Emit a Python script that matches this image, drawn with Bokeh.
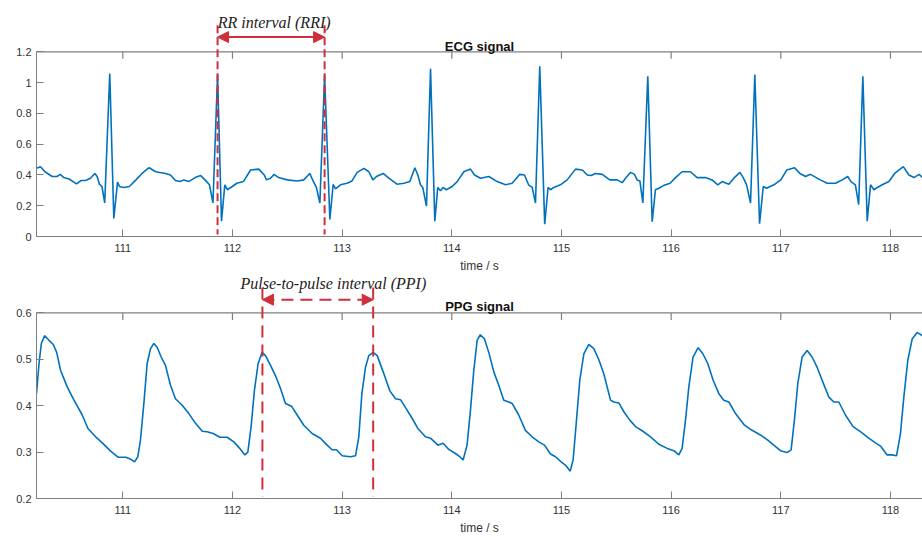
from bokeh.plotting import figure
from bokeh.models import FixedTicker, Range1d, Arrow, NormalHead, Label
from bokeh.layouts import column
from bokeh.embed import file_html
from bokeh.resources import INLINE

# ---------------- data ----------------
ecg_t = [110.213, 110.25, 110.29, 110.356, 110.40, 110.43, 110.462, 110.51, 110.578, 110.62,
         110.66, 110.705, 110.745, 110.766, 110.787, 110.81, 110.835, 110.881, 110.918, 110.952,
         110.97, 111.006, 111.06, 111.12, 111.175, 111.24, 111.30, 111.39, 111.435, 111.48,
         111.52, 111.557, 111.60, 111.66, 111.71, 111.75, 111.79, 111.822, 111.864, 111.90,
         111.93, 111.953, 111.998, 112.04, 112.10, 112.165, 112.24, 112.29, 112.31, 112.347,
         112.38, 112.42, 112.50, 112.59, 112.65, 112.705, 112.735, 112.765, 112.797, 112.84,
         112.888, 112.918, 112.94, 112.985, 113.045, 113.09, 113.137, 113.198, 113.244, 113.28,
         113.313, 113.374, 113.426, 113.50, 113.563, 113.617, 113.663, 113.69, 113.714, 113.735,
         113.769, 113.806, 113.845, 113.872, 113.897, 113.92, 113.95, 114.003, 114.049, 114.11,
         114.17, 114.207, 114.262, 114.338, 114.414, 114.49, 114.55, 114.62, 114.663, 114.70,
         114.733, 114.763, 114.802, 114.847, 114.878, 114.90, 114.93, 114.99, 115.052, 115.128,
         115.19, 115.235, 115.27, 115.31, 115.372, 115.44, 115.508, 115.554, 115.584, 115.63,
         115.666, 115.69, 115.715, 115.742, 115.787, 115.827, 115.857, 115.888, 115.93, 115.99,
         116.04, 116.10, 116.176, 116.237, 116.313, 116.373, 116.425, 116.465, 116.526, 116.572,
         116.627, 116.657, 116.688, 116.724, 116.763, 116.806, 116.84, 116.87, 116.937, 117.0,
         117.054, 117.125, 117.174, 117.226, 117.27, 117.36, 117.423, 117.5, 117.56, 117.61,
         117.64, 117.68, 117.71, 117.748, 117.788, 117.818, 117.85, 117.88, 117.925, 117.986,
         118.038, 118.117, 118.168, 118.214, 118.26, 118.293]
ecg_v = [0.443, 0.454, 0.421, 0.39, 0.39, 0.404, 0.383, 0.374, 0.342, 0.364,
         0.364, 0.379, 0.41, 0.39, 0.34, 0.325, 0.218, 1.059, 0.117, 0.353,
         0.325, 0.319, 0.325, 0.368, 0.41, 0.447, 0.421, 0.41, 0.40, 0.364,
         0.357, 0.368, 0.357, 0.383, 0.396, 0.368, 0.336, 0.218, 1.053, 0.10,
         0.336, 0.304, 0.325, 0.346, 0.357, 0.432, 0.438, 0.40, 0.368, 0.379,
         0.404, 0.383, 0.368, 0.361, 0.368, 0.41, 0.361, 0.319, 0.218, 1.046,
         0.111, 0.338, 0.31, 0.336, 0.346, 0.361, 0.417, 0.443, 0.421, 0.368,
         0.39, 0.41, 0.379, 0.34, 0.346, 0.357, 0.447, 0.40, 0.336, 0.319,
         0.197, 1.091, 0.10, 0.319, 0.297, 0.319, 0.304, 0.325, 0.357, 0.421,
         0.438, 0.40, 0.379, 0.39, 0.357, 0.336, 0.346, 0.404, 0.40, 0.336,
         0.319, 0.218, 1.106, 0.08, 0.319, 0.304, 0.319, 0.336, 0.368, 0.438,
         0.432, 0.40, 0.396, 0.41, 0.404, 0.368, 0.368, 0.35, 0.379, 0.417,
         0.404, 0.368, 0.361, 0.218, 1.042, 0.096, 0.304, 0.314, 0.331, 0.346,
         0.383, 0.421, 0.421, 0.383, 0.383, 0.368, 0.336, 0.357, 0.34, 0.379,
         0.417, 0.383, 0.336, 0.218, 1.053, 0.083, 0.325, 0.314, 0.336, 0.368,
         0.432, 0.447, 0.41, 0.39, 0.404, 0.368, 0.346, 0.346, 0.368, 0.39,
         0.357, 0.336, 0.208, 1.042, 0.10, 0.336, 0.304, 0.319, 0.336, 0.357,
         0.41, 0.454, 0.40, 0.383, 0.404, 0.383]

ppg_t = [110.213, 110.236, 110.257, 110.288, 110.327, 110.366, 110.397, 110.433, 110.494, 110.555,
         110.63, 110.682, 110.752, 110.813, 110.889, 110.956, 111.026, 111.07, 111.107, 111.137,
         111.161, 111.192, 111.222, 111.253, 111.283, 111.313, 111.35, 111.389, 111.435, 111.48,
         111.541, 111.602, 111.663, 111.724, 111.769, 111.824, 111.885, 111.952, 112.012, 112.067,
         112.113, 112.14, 112.17, 112.20, 112.234, 112.27, 112.301, 112.347, 112.392, 112.438,
         112.483, 112.538, 112.59, 112.65, 112.726, 112.802, 112.863, 112.908, 112.948, 113.0,
         113.076, 113.122, 113.152, 113.18, 113.213, 113.243, 113.283, 113.32, 113.374, 113.435,
         113.487, 113.532, 113.578, 113.638, 113.69, 113.76, 113.806, 113.873, 113.92, 113.972,
         114.033, 114.078, 114.103, 114.139, 114.17, 114.2, 114.231, 114.26, 114.298, 114.337,
         114.383, 114.428, 114.474, 114.52, 114.55, 114.61, 114.671, 114.732, 114.793, 114.845,
         114.9, 114.945, 114.997, 115.036, 115.08, 115.106, 115.137, 115.167, 115.204, 115.249,
         115.295, 115.341, 115.386, 115.447, 115.477, 115.523, 115.569, 115.623, 115.675, 115.736,
         115.812, 115.888, 115.964, 116.025, 116.07, 116.1, 116.131, 116.161, 116.2, 116.246,
         116.289, 116.334, 116.383, 116.435, 116.48, 116.526, 116.587, 116.669, 116.738, 116.814,
         116.881, 116.936, 116.997, 117.057, 117.094, 117.124, 117.155, 117.194, 117.24, 117.285,
         117.331, 117.377, 117.437, 117.483, 117.529, 117.589, 117.659, 117.726, 117.802, 117.863,
         117.909, 117.97, 118.015, 118.055, 118.091, 118.122, 118.158, 118.198, 118.243, 118.289]
ppg_v = [0.426, 0.491, 0.534, 0.551, 0.541, 0.532, 0.515, 0.476, 0.440, 0.412,
         0.380, 0.351, 0.333, 0.320, 0.302, 0.289, 0.289, 0.285, 0.279, 0.290,
         0.326, 0.405, 0.491, 0.523, 0.534, 0.526, 0.505, 0.487, 0.444, 0.415,
         0.401, 0.383, 0.362, 0.345, 0.344, 0.340, 0.332, 0.332, 0.322, 0.308,
         0.294, 0.300, 0.355, 0.433, 0.491, 0.515, 0.508, 0.487, 0.465, 0.437,
         0.405, 0.399, 0.380, 0.358, 0.340, 0.330, 0.315, 0.305, 0.305, 0.292,
         0.290, 0.292, 0.333, 0.426, 0.483, 0.508, 0.515, 0.508, 0.473, 0.432,
         0.415, 0.413, 0.396, 0.373, 0.351, 0.333, 0.330, 0.315, 0.319, 0.306,
         0.297, 0.289, 0.283, 0.315, 0.39, 0.475, 0.541, 0.553, 0.544, 0.515,
         0.473, 0.444, 0.412, 0.408, 0.405, 0.380, 0.347, 0.333, 0.322, 0.315,
         0.296, 0.290, 0.279, 0.272, 0.259, 0.283, 0.369, 0.455, 0.512, 0.532,
         0.523, 0.499, 0.469, 0.412, 0.408, 0.406, 0.387, 0.369, 0.355, 0.346,
         0.333, 0.317, 0.308, 0.303, 0.294, 0.308, 0.369, 0.440, 0.505, 0.525,
         0.512, 0.491, 0.455, 0.426, 0.412, 0.408, 0.383, 0.358, 0.347, 0.337,
         0.326, 0.315, 0.303, 0.299, 0.305, 0.369, 0.448, 0.505, 0.519, 0.505,
         0.483, 0.455, 0.419, 0.408, 0.408, 0.380, 0.355, 0.344, 0.330, 0.320,
         0.313, 0.294, 0.294, 0.292, 0.340, 0.419, 0.498, 0.544, 0.558, 0.551]

x_ticks = [111, 112, 113, 114, 115, 116, 117, 118]
ecg_ticks = [0, 0.2, 0.4, 0.6, 0.8, 1, 1.2]
ppg_ticks = [0.2, 0.3, 0.4, 0.5, 0.6]
rri_bounds = [111.864, 112.840]   # R peaks marked in ECG
ppi_bounds = [112.273, 113.283]   # pulse peaks marked in PPG

# ---------------- styling ----------------
BLUE = "#0072bd"
RED = "#cf2e3a"
GRAY = "#7f7f7f"
TXT = "#333333"
SANS = "Liberation Sans"
SERIF = "Liberation Serif"
X0, X1 = 110.213, 118.292
TICK_PX = 7


def style_axis(ax):
    ax.axis_line_color = GRAY
    ax.major_tick_line_color = GRAY
    ax.minor_tick_line_color = None
    ax.major_tick_in = TICK_PX
    ax.major_tick_out = 0
    ax.major_label_text_font = SANS
    ax.major_label_text_color = TXT
    ax.major_label_text_font_size = "11px"
    ax.axis_label_text_font = SANS
    ax.axis_label_text_color = TXT
    ax.axis_label_text_font_style = "normal"
    ax.axis_label_text_font_size = "12px"


def make_fig(h, bottom, ylo, yhi, yview_top, yticks, title, title_y):
    # the frame reaches the top of the figure so that the annotations above the
    # axes box can be drawn; the axes box itself spans [ylo, yhi]
    p = figure(width=922, height=h, x_range=Range1d(X0, X1), y_range=Range1d(ylo, yview_top),
               output_backend="svg", toolbar_location=None,
               min_border_left=36, min_border_right=0, min_border_top=0, min_border_bottom=bottom)
    p.grid.visible = False
    p.outline_line_color = None
    xb = p.below[0]
    yl = p.left[0]
    style_axis(xb)
    style_axis(yl)
    xb.ticker = FixedTicker(ticks=x_ticks)
    xb.axis_label = "time / s"
    xb.major_label_standoff = 7
    xb.axis_label_standoff = 4
    yl.ticker = FixedTicker(ticks=yticks)
    yl.bounds = (ylo, yhi)
    yl.major_label_standoff = 5
    # top edge of the axes box with inward ticks
    frame_px = h - bottom
    tick_len = (yview_top - ylo) / frame_px * TICK_PX
    p.line(x=[X0, X1], y=[yhi, yhi], line_color=GRAY, line_width=1.2)
    p.segment(x0=x_ticks, x1=x_ticks, y0=[yhi] * len(x_ticks), y1=[yhi - tick_len] * len(x_ticks),
              line_color=GRAY, line_width=1.2)
    p.add_layout(Label(x=(X0 + X1) / 2, y=title_y, text=title, text_font=SANS,
                       text_font_style="bold", text_font_size="13px", text_color="#111111",
                       text_align="center", text_baseline="alphabetic"))
    return p


# ---------------- ECG ----------------
p1 = make_fig(275, 36, 0, 1.2, 1.534, ecg_ticks, "ECG signal", 1.232)
p1.left[0].major_label_overrides = {0: "0", 1: "1"}
p1.line(ecg_t, ecg_v, line_color=BLUE, line_width=1.6)
p1.segment(x0=rri_bounds, x1=rri_bounds, y0=[1.373, 1.373], y1=[0.013, 0.013],
           line_color=RED, line_width=2, line_dash="8 4")
p1.add_layout(Arrow(start=NormalHead(size=11, fill_color=RED, line_color=RED),
                    end=NormalHead(size=11, fill_color=RED, line_color=RED),
                    x_start=rri_bounds[0], x_end=rri_bounds[1], y_start=1.296, y_end=1.296,
                    line_color=RED, line_width=2))
p1.add_layout(Label(x=112.38, y=1.393, text="RR interval (RRI)", text_font=SERIF,
                    text_font_style="italic", text_font_size="16px", text_color="#222222",
                    text_align="center", text_baseline="alphabetic"))

# ---------------- PPG ----------------
p2 = make_fig(262, 38, 0.2, 0.6, 0.6807, ppg_ticks, "PPG signal", 0.6135)
p2.line(ppg_t, ppg_v, line_color=BLUE, line_width=1.6)
p2.segment(x0=ppi_bounds, x1=ppi_bounds, y0=[0.655, 0.655], y1=[0.204, 0.204],
           line_color=RED, line_width=2, line_dash="12 7")
p2.add_layout(Arrow(start=NormalHead(size=11, fill_color=RED, line_color=RED),
                    end=NormalHead(size=11, fill_color=RED, line_color=RED),
                    x_start=ppi_bounds[0], x_end=ppi_bounds[1], y_start=0.6285, y_end=0.6285,
                    line_color=RED, line_width=2, line_dash="12 7"))
p2.add_layout(Label(x=112.92, y=0.6635, text="Pulse-to-pulse interval (PPI)", text_font=SERIF,
                    text_font_style="italic", text_font_size="16px", text_color="#222222",
                    text_align="center", text_baseline="alphabetic"))

layout = column(p1, p2, spacing=0)
open("out.html", "w").write(file_html(layout, INLINE))
